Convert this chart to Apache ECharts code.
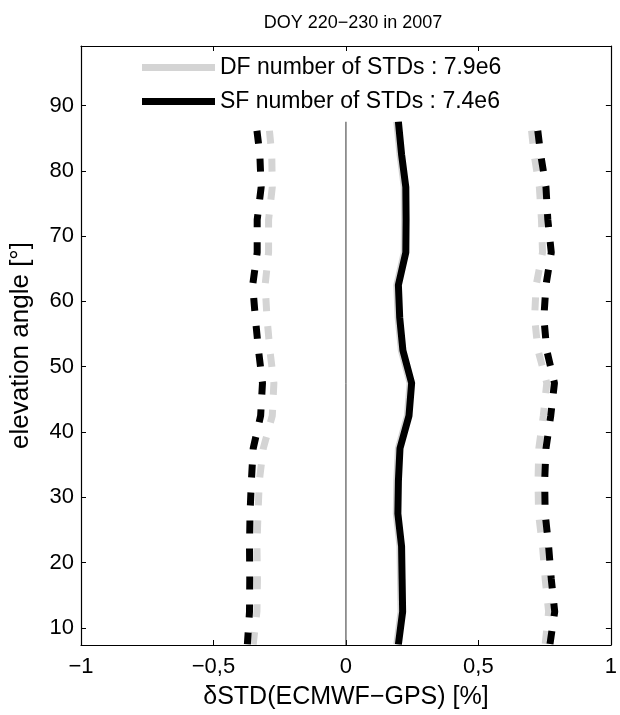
<!DOCTYPE html>
<html>
<head>
<meta charset="utf-8">
<script src="https://cdn.jsdelivr.net/npm/echarts@6/dist/echarts.min.js"></script>
<style>
  html, body { margin: 0; padding: 0; background: #fff; }
  #chart { width: 620px; height: 715px; }
</style>
</head>
<body>
<div id="chart"></div>
<script>
// elevation bins, top to bottom (so the dash pattern starts at the top like the original)
var elevation = [87.5, 82.5, 77.5, 72.5, 67.5, 62.5, 57.5, 52.5, 47.5, 42.5, 37.5, 32.5, 27.5, 22.5, 17.5, 12.5, 7.5];

// SF (black) mean and mean -/+ std
var sfMean = [0.198, 0.210, 0.226, 0.227, 0.226, 0.198, 0.203, 0.215, 0.248, 0.238, 0.204, 0.198, 0.196, 0.210, 0.212, 0.214, 0.198];
var sfLow  = [-0.340, -0.325, -0.320, -0.335, -0.335, -0.352, -0.342, -0.330, -0.315, -0.322, -0.350, -0.357, -0.362, -0.364, -0.363, -0.364, -0.372];
var sfHigh = [0.720, 0.735, 0.755, 0.762, 0.775, 0.755, 0.747, 0.758, 0.787, 0.773, 0.755, 0.750, 0.752, 0.765, 0.775, 0.788, 0.770];

// DF (grey) mean and mean -/+ std
var dfMean = [0.192, 0.204, 0.220, 0.221, 0.220, 0.192, 0.197, 0.209, 0.242, 0.232, 0.198, 0.192, 0.190, 0.204, 0.206, 0.208, 0.192];
var dfLow  = [-0.292, -0.280, -0.278, -0.292, -0.292, -0.305, -0.298, -0.287, -0.272, -0.278, -0.312, -0.327, -0.332, -0.336, -0.334, -0.336, -0.350];
var dfHigh = [0.697, 0.710, 0.730, 0.738, 0.742, 0.718, 0.712, 0.725, 0.758, 0.745, 0.728, 0.725, 0.727, 0.742, 0.752, 0.765, 0.752];

var xTicks = [-1, -0.5, 0, 0.5, 1];
var yTicks = [10, 20, 30, 40, 50, 60, 70, 80, 90];
var yMin = 7.4, yMax = 99.1;

var dfName = 'DF number of STDs : 7.9e6';
var sfName = 'SF number of STDs : 7.4e6';

var grey = '#d4d4d4';
var black = '#000000';
var font = 'Liberation Sans, Arial, Helvetica, sans-serif';

function pairs(vals) {
	return elevation.map(function(e, i) { return [vals[i], e]; });
}

function xLabel(v) {
	return String(v).replace('-', '\u2212').replace('.', ',');
}

function lineSeries(name, vals, color, dashed, z) {
	return {
		name: name,
		type: 'line',
		data: pairs(vals),
		symbol: 'none',
		silent: true,
		z: z,
		itemStyle: { color: color },
		lineStyle: {
			color: color,
			width: 7,
			type: dashed ? [13, 15] : 'solid',
			dashOffset: 19
		}
	};
}

function ticks(values) {
	return { show: true, inside: true, length: 5, customValues: values, lineStyle: { color: '#000', width: 1 } };
}

function axisCommon(extra) {
	var base = {
		type: 'value',
		splitLine: { show: false },
		axisLine: { show: true, onZero: false, lineStyle: { color: '#000', width: 1.2 } }
	};
	for (var k in extra) base[k] = extra[k];
	return base;
}

var myChart = echarts.init(document.getElementById('chart'));
var option = {
	backgroundColor: '#fff',
	animation: false,
	title: {
		text: 'DOY 220\u2212230 in 2007',
		left: 348,
		top: 9,
		textAlign: 'center',
		textStyle: { fontFamily: font, fontSize: 18, fontWeight: 'normal', color: '#000' }
	},
	legend: {
		data: [dfName, sfName],
		orient: 'vertical',
		left: 137,
		top: 51,
		icon: 'rect',
		itemWidth: 73,
		itemHeight: 7,
		itemGap: 11,
		selectedMode: false,
		textStyle: { fontFamily: font, fontSize: 23, color: '#000' }
	},
	grid: { left: 80, right: 3, top: 46, bottom: 63 },
	xAxis: [
		axisCommon({
			position: 'bottom',
			min: -1, max: 1, interval: 0.5,
			name: '\u03b4STD(ECMWF\u2212GPS) [%]',
			nameLocation: 'middle',
			nameGap: 40,
			nameTextStyle: { fontFamily: font, fontSize: 25, color: '#000' },
			axisLabel: {
				margin: 11,
				customValues: xTicks,
				formatter: xLabel,
				fontFamily: font, fontSize: 22, color: '#000'
			},
			axisTick: ticks(xTicks)
		}),
		axisCommon({
			position: 'top',
			min: -1, max: 1, interval: 0.5,
			axisLabel: { show: false },
			axisTick: ticks(xTicks)
		})
	],
	yAxis: [
		axisCommon({
			position: 'left',
			min: yMin, max: yMax,
			name: 'elevation angle [\u00b0]',
			nameLocation: 'middle',
			nameGap: 47,
			nameRotate: 90,
			nameTextStyle: { fontFamily: font, fontSize: 26, color: '#000' },
			axisLabel: {
				margin: 7,
				customValues: yTicks,
				fontFamily: font, fontSize: 22, color: '#000'
			},
			axisTick: ticks(yTicks)
		}),
		axisCommon({
			position: 'right',
			min: yMin, max: yMax,
			axisLabel: { show: false },
			axisTick: ticks(yTicks)
		})
	],
	series: [
		{
			type: 'line',
			data: [[0, 87.5], [0, yMin]],
			symbol: 'none',
			silent: true,
			z: 1,
			lineStyle: { color: '#333', width: 1 }
		},
		lineSeries(dfName, dfMean, grey, false, 2),
		lineSeries('DF low', dfLow, grey, true, 2),
		lineSeries('DF high', dfHigh, grey, true, 2),
		lineSeries(sfName, sfMean, black, false, 3),
		lineSeries('SF low', sfLow, black, true, 3),
		lineSeries('SF high', sfHigh, black, true, 3)
	]
};
myChart.setOption(option);
</script>
</body>
</html>
